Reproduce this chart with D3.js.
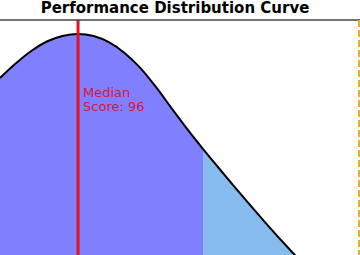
<!DOCTYPE html>
<html>
<head>
<meta charset="utf-8">
<script src="https://cdn.jsdelivr.net/npm/d3@7"></script>
<style>
  html, body { margin: 0; padding: 0; background: #fff; }
  svg { display: block; font-family: 'DejaVu Sans', sans-serif; }
</style>
</head>
<body>
<script>
// scores (x) and relative frequency (y)
const scores  = [86, 88, 90, 92, 94, 96, 98, 100, 102, 104, 106, 108, 110, 112, 114, 116, 118, 120, 122, 124, 126, 128, 130, 132]
const density = [3.275, 3.456, 3.613, 3.731, 3.800, 3.825, 3.799, 3.719, 3.585, 3.398, 3.160, 2.896, 2.635, 2.389, 2.153, 1.920, 1.691, 1.468, 1.250, 1.039, 0.838, 0.653, 0.488, 0.341]
const median = 96
const topCut = 112      // start of the upper band
const target = 132      // dashed marker
const title = 'Performance Distribution Curve'
const medianLabel = ['Median', 'Score: 96']

const size = {
    width: 360,
    height: 255,
    top: 20,
    base: 340
}

let svg = d3.select('body')
            .append('svg')
            .attr('width', size.width)
            .attr('height', size.height)

let data = scores.map((s, i) => ({score: s, value: density[i]}))

//scales
let xScale = d3.scaleLinear()
               .domain([86, 132])
               .range([0, 359])
let yScale = d3.scaleLinear()
               .domain([0, 4])
               .range([size.base, size.top])

//clip to plot area
svg.append('clipPath')
   .attr('id', 'plot')
   .append('rect')
   .attr('x', 0).attr('y', size.top)
   .attr('width', size.width).attr('height', size.base)

let plot = svg.append('g').attr('clip-path', 'url(#plot)')

let area = d3.area()
             .x(d => xScale(d.score))
             .y0(yScale(0))
             .y1(d => yScale(d.value))
             .curve(d3.curveMonotoneX)
let line = d3.line()
             .x(d => xScale(d.score))
             .y(d => yScale(d.value))
             .curve(d3.curveMonotoneX)

//main fill
plot.append('path')
    .datum(data)
    .attr('d', area)
    .attr('fill', '#8080ff')

//upper band fill, clipped from the cut score on
svg.append('clipPath')
   .attr('id', 'upper')
   .append('rect')
   .attr('x', xScale(topCut)).attr('y', size.top)
   .attr('width', size.width).attr('height', size.base)
plot.append('g')
    .attr('clip-path', 'url(#upper)')
    .append('path')
    .datum(data)
    .attr('d', area)
    .attr('fill', '#86bbee')

//curve
plot.append('path')
    .datum(data)
    .attr('d', line)
    .attr('fill', 'none')
    .attr('stroke', '#000')
    .attr('stroke-width', 2)

//median line
plot.append('line')
    .attr('x1', xScale(median)).attr('x2', xScale(median))
    .attr('y1', size.top).attr('y2', size.base)
    .attr('stroke', '#e3121e')
    .attr('stroke-width', 3)

plot.append('text')
    .attr('x', xScale(median) + 5)
    .attr('y', 97)
    .attr('fill', '#dc143c')
    .style('font-size', '13px')
    .selectAll('tspan')
    .data(medianLabel)
    .enter()
    .append('tspan')
    .attr('x', xScale(median) + 5)
    .attr('dy', (d, i) => i ? 14 : 0)
    .text(d => d)

//top spine
svg.append('line')
   .attr('x1', 0).attr('x2', size.width)
   .attr('y1', size.top).attr('y2', size.top)
   .attr('stroke', '#444')
   .attr('stroke-width', 1.4)

//target marker
svg.append('line')
   .attr('x1', xScale(target)).attr('x2', xScale(target))
   .attr('y1', size.top).attr('y2', size.height)
   .attr('stroke', '#f2a92c')
   .attr('stroke-width', 2)
   .attr('stroke-dasharray', '7,3')

//title
svg.append('text')
   .attr('x', 175)
   .attr('y', 13)
   .attr('text-anchor', 'middle')
   .style('font-size', '15px')
   .style('font-weight', 'bold')
   .text(title)
</script>
</body>
</html>
